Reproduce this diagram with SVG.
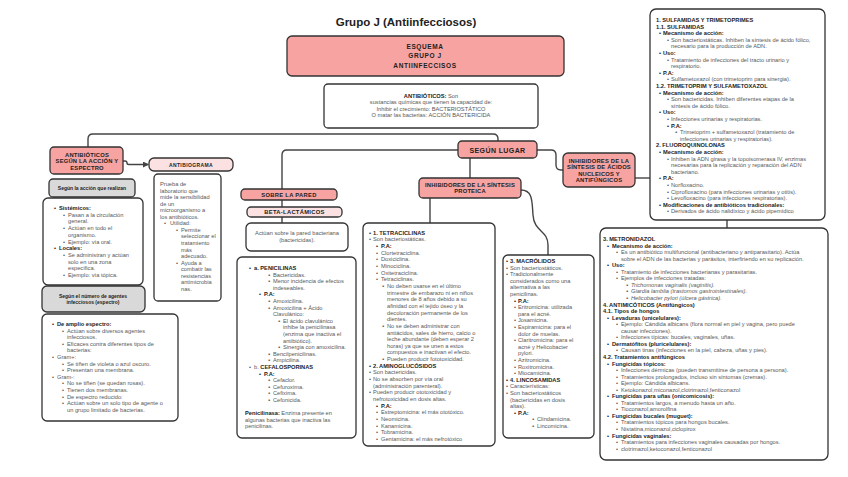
<svg xmlns="http://www.w3.org/2000/svg" width="848" height="477" viewBox="0 0 848 477">
<defs>
<marker id="ah" markerWidth="6" markerHeight="6" refX="5" refY="3" orient="auto" markerUnits="userSpaceOnUse"><path d="M0,0 L6,3 L0,6 Z" fill="#444"/></marker>
<style>
text{font-family:"Liberation Sans",Arial,sans-serif;}
.t{font-size:5.7px;fill:#585858;}
.b{font-weight:bold;fill:#222;}
.i{font-style:italic;}
.c{text-anchor:middle;}
.n{font-size:5.8px;font-weight:bold;fill:#222;text-anchor:middle;letter-spacing:0.2px;}
.box{stroke:#333;stroke-width:1.3;}
.red{fill:#f6a3a1;}
.pink{fill:#fbe1e1;}
.gray{fill:#d9d9d9;}
.white{fill:#fff;}
.con{fill:none;stroke:#444;stroke-width:1.4;}
</style>
</defs>
<rect width="848" height="477" fill="#fff"/>
<text x="406" y="25.5" class="c" style="font-size:11.5px;font-weight:bold;fill:#222">Grupo J (Antiinfecciosos)</text>

<g id="connectors">
<path class="con" d="M88,147 V139 Q88,134 93,134 H493 Q498,134 498,139 V141"/>
<path class="con" d="M458,150 H287 Q282,150 282,155 V189"/>
<path class="con" d="M537,150 H551 Q556,150 556,155 V165 Q556,170 561,170 H563"/>
<path class="con" d="M470,158 V178"/>
<path class="con" d="M282,200 V207"/>
<path class="con" d="M282,217 V223"/>
<path class="con" d="M430,198 V223"/>
<path class="con" d="M521,190 C533,190 532,202 533,215 C534,232 548,230 548,245 V255"/>
<path class="con" d="M635,178 H650"/>
<path class="con" d="M727,220 V228"/>
<path class="con" d="M123,161 H125 Q127,161 127,163 Q127,164.5 129,164.5 H148" marker-end="url(#ah)"/>
</g>

<g id="esquema">
<rect x="287" y="36" width="277" height="40" rx="5" class="box red"/>
<text x="425" y="49" class="n" style="font-size:6.5px;letter-spacing:0.6px">ESQUEMA</text>
<text x="425" y="58" class="n" style="font-size:6.5px;letter-spacing:0.6px">GRUPO J</text>
<text x="425" y="67.5" class="n" style="font-size:6.5px;letter-spacing:0.6px">ANTIINFECCISOS</text>
</g>

<g id="antibioticos">
<rect x="324" y="84" width="214" height="44" rx="4" class="box white"/>
<text x="431" y="97.5" class="t c"><tspan class="b">ANTIBIÓTICOS:</tspan> Son</text>
<text x="431" y="104" class="t c">sustancias químicas que tienen la capacidad de:</text>
<text x="431" y="110.5" class="t c">Inhibir el crecimiento: BACTERIOSTÁTICO</text>
<text x="431" y="117" class="t c">O matar las bacterias: ACCIÓN BACTERICIDA</text>
</g>

<g id="segun-lugar">
<rect x="458" y="141" width="79" height="17" rx="4" class="box red"/>
<text x="497.5" y="152.5" class="n" style="font-size:7px;letter-spacing:0.4px">SEGÚN LUGAR</text>
</g>

<g id="antib-accion">
<rect x="50" y="147" width="73" height="27" rx="4" class="box red"/>
<text x="87" y="156.5" class="n">ANTIBIÓTICOS</text>
<text x="87" y="163" class="n">SEGÚN LA ACCIÓN Y</text>
<text x="87" y="169.5" class="n">ESPECTRO</text>
</g>

<g id="antibiograma">
<rect x="149" y="158" width="84" height="13" rx="5" class="box pink"/>
<text x="191" y="166.5" class="n" style="font-size:5px;letter-spacing:0.4px">ANTIBIOGRAMA</text>
</g>

<g id="antibiograma-text">
<rect x="154" y="174" width="67" height="127" rx="4" class="box white"/>
<text class="t" x="160" y="186">Prueba de</text>
<text class="t" x="160" y="192.5">laboratorio que</text>
<text class="t" x="160" y="199">mide la sensibilidad</text>
<text class="t" x="160" y="205.6">de un</text>
<text class="t" x="160" y="212.2">microorganismo a</text>
<text class="t" x="160" y="218.7">los antibióticos.</text>
<text class="t" x="164" y="225.3">•</text><text class="t" x="170" y="225.3">Utilidad:</text>
<text class="t" x="176" y="231.8">•</text><text class="t" x="181" y="231.8">Permite</text>
<text class="t" x="181" y="238.4">seleccionar el</text>
<text class="t" x="181" y="245">tratamiento</text>
<text class="t" x="181" y="251.5">más</text>
<text class="t" x="181" y="258">adecuado.</text>
<text class="t" x="176" y="264.6">•</text><text class="t" x="181" y="264.6">Ayuda a</text>
<text class="t" x="181" y="271.2">combatir las</text>
<text class="t" x="181" y="277.8">resistencias</text>
<text class="t" x="181" y="284.3">antimicrobia</text>
<text class="t" x="181" y="290.8">nas.</text>
</g>

<g id="segun-accion">
<rect x="49" y="179" width="86" height="18" rx="4" class="box gray"/>
<text x="92" y="189.8" class="n" style="font-size:5px;letter-spacing:0">Según la acción que realizan</text>
</g>

<g id="sistemicos">
<rect x="43" y="198" width="100" height="87" rx="5" class="box white"/>
<text class="t b" x="54" y="210">•</text><text class="t b" x="59" y="210">Sistémicos:</text>
<text class="t" x="63" y="216.7">•</text><text class="t" x="68" y="216.7">Pasan a la circulación</text>
<text class="t" x="68" y="223.4">general.</text>
<text class="t" x="63" y="230.1">•</text><text class="t" x="68" y="230.1">Actúan en todo el</text>
<text class="t" x="68" y="236.8">organismo.</text>
<text class="t" x="63" y="243.5">•</text><text class="t" x="68" y="243.5">Ejemplo: vía oral.</text>
<text class="t b" x="54" y="250.2">•</text><text class="t b" x="59" y="250.2">Locales:</text>
<text class="t" x="63" y="256.9">•</text><text class="t" x="68" y="256.9">Se administran y actúan</text>
<text class="t" x="68" y="263.6">solo en una zona</text>
<text class="t" x="68" y="270.3">específica.</text>
<text class="t" x="63" y="277">•</text><text class="t" x="68" y="277">Ejemplo: vía tópica.</text>
</g>

<g id="segun-numero">
<rect x="42" y="286" width="103" height="26" rx="5" class="box gray"/>
<text x="93" y="298" class="n" style="font-size:5px;letter-spacing:0">Según el número de agentes</text>
<text x="93" y="304" class="n" style="font-size:5px;letter-spacing:0">infecciosos (espectro)</text>
</g>

<g id="espectro">
<rect x="42" y="314" width="136" height="107" rx="5" class="box white"/>
<text class="t b" x="52" y="326">•</text><text class="t b" x="57" y="326">De amplio espectro:</text>
<text class="t" x="62" y="332.6">•</text><text class="t" x="67" y="332.6">Actúan sobre diversos agentes</text>
<text class="t" x="67" y="339.2">infecciosos.</text>
<text class="t" x="62" y="345.8">•</text><text class="t" x="67" y="345.8">Eficaces contra diferentes tipos de</text>
<text class="t" x="67" y="352.4">bacterias:</text>
<text class="t" x="52" y="359">•</text><text class="t" x="57" y="359">Gram+:</text>
<text class="t" x="62" y="365.6">•</text><text class="t" x="67" y="365.6">Se tiñen de violeta o azul oscuro.</text>
<text class="t" x="62" y="372.2">•</text><text class="t" x="67" y="372.2">Presentan una membrana.</text>
<text class="t" x="52" y="378.8">•</text><text class="t" x="57" y="378.8">Gram-:</text>
<text class="t" x="62" y="385.4">•</text><text class="t" x="67" y="385.4">No se tiñen (se quedan rosas).</text>
<text class="t" x="62" y="392">•</text><text class="t" x="67" y="392">Tienen dos membranas.</text>
<text class="t" x="62" y="398.6">•</text><text class="t" x="67" y="398.6">De espectro reducido:</text>
<text class="t" x="62" y="405.2">•</text><text class="t" x="67" y="405.2">Actúan sobre un solo tipo de agente o</text>
<text class="t" x="67" y="411.8">un grupo limitado de bacterias.</text>
</g>

<g id="sobre-pared">
<rect x="241" y="189" width="96" height="11" rx="4" class="box red"/>
<text x="289" y="196.7" class="n" style="letter-spacing:0.3px">SOBRE LA PARED</text>
</g>

<g id="beta-lactamicos">
<rect x="247" y="207" width="95" height="10" rx="4" class="box pink"/>
<text x="294.5" y="214.2" class="n" style="letter-spacing:0.3px">BETA-LACTÁMICOS</text>
</g>

<g id="pared-text">
<rect x="246" y="223" width="102" height="28" rx="5" class="box white"/>
<text class="t c" x="297" y="234.5">Actúan sobre la pared bacteriana</text>
<text class="t c" x="297" y="241.5">(bactericidas).</text>
</g>

<g id="penicilinas">
<rect x="237" y="257" width="119" height="181" rx="5" class="box white"/>
<text class="t b" x="249" y="270">•</text><text class="t b" x="254" y="270">a. PENICILINAS</text>
<text class="t" x="268" y="276.6">▪</text><text class="t" x="273" y="276.6">Bactericidas.</text>
<text class="t" x="268" y="283.2">▪</text><text class="t" x="273" y="283.2">Menor incidencia de efectos</text>
<text class="t" x="273" y="289.8">indeseables.</text>
<text class="t b" x="259" y="296.4">•</text><text class="t b" x="264" y="296.4">P.A:</text>
<text class="t" x="268" y="303">▪</text><text class="t" x="273" y="303">Amoxicilina.</text>
<text class="t" x="268" y="309.6">▪</text><text class="t" x="273" y="309.6">Amoxicilina + Ácido</text>
<text class="t" x="273" y="316.2">Clavulánico:</text>
<text class="t" x="278" y="322.8">▪</text><text class="t" x="283" y="322.8">El ácido clavulánico</text>
<text class="t" x="283" y="329.4">inhibe la penicilinasa</text>
<text class="t" x="283" y="336">(enzima que inactiva el</text>
<text class="t" x="283" y="342.6">antibiótico).</text>
<text class="t" x="278" y="349.2">▪</text><text class="t" x="283" y="349.2">Sinergia con amoxicilina.</text>
<text class="t" x="268" y="355.8">▪</text><text class="t" x="273" y="355.8">Bencilpenicilinas.</text>
<text class="t" x="268" y="362.4">▪</text><text class="t" x="273" y="362.4">Ampicilina.</text>
<text class="t" x="249" y="369">•</text><text class="t" x="254" y="369">b. <tspan class="b">CEFALOSPORINAS</tspan></text>
<text class="t b" x="259" y="375.6">•</text><text class="t b" x="264" y="375.6">P.A:</text>
<text class="t" x="268" y="382.2">▪</text><text class="t" x="273" y="382.2">Cefaclor.</text>
<text class="t" x="268" y="388.8">▪</text><text class="t" x="273" y="388.8">Cefuroxima.</text>
<text class="t" x="268" y="395.4">▪</text><text class="t" x="273" y="395.4">Cefixima.</text>
<text class="t" x="268" y="402">▪</text><text class="t" x="273" y="402">Cefonicida.</text>
<text class="t" x="245" y="415.2"><tspan class="b">Penicilinasa:</tspan> Enzima presente en</text>
<text class="t" x="245" y="421.8">algunas bacterias que inactiva las</text>
<text class="t" x="245" y="428.4">penicilinas.</text>
</g>

<g id="inhibidores-proteica">
<rect x="419" y="178" width="102" height="20" rx="4" class="box red"/>
<text x="470" y="186.7" class="n">INHIBIDORES DE LA SÍNTESIS</text>
<text x="470" y="193.2" class="n">PROTEICA</text>
</g>

<g id="tetraciclinas">
<rect x="363" y="223" width="132" height="223" rx="5" class="box white"/>
<text class="t b" x="369" y="234.7">•</text><text class="t b" x="373" y="234.7">1. TETRACICLINAS</text>
<text class="t" x="369" y="241.4">•</text><text class="t" x="373" y="241.4">Son bacteriostáticas.</text>
<text class="t b" x="376" y="248">•</text><text class="t b" x="381" y="248">P.A:</text>
<text class="t" x="376" y="254.7">•</text><text class="t" x="381" y="254.7">Clortetraciclina.</text>
<text class="t" x="376" y="261.3">•</text><text class="t" x="381" y="261.3">Doxiciclina.</text>
<text class="t" x="376" y="268">•</text><text class="t" x="381" y="268">Minociclina.</text>
<text class="t" x="376" y="274.6">•</text><text class="t" x="381" y="274.6">Oxitetraciclina.</text>
<text class="t" x="376" y="281.3">•</text><text class="t" x="381" y="281.3">Tetraciclinas.</text>
<text class="t" x="382" y="287.9">▪</text><text class="t" x="387" y="287.9">No deben usarse en el último</text>
<text class="t" x="387" y="294.6">trimestre de embarazo ni en niños</text>
<text class="t" x="387" y="301.2">menores de 8 años debido a su</text>
<text class="t" x="387" y="307.9">afinidad con el tejido óseo y la</text>
<text class="t" x="387" y="314.5">decoloración permanente de los</text>
<text class="t" x="387" y="321.2">dientes.</text>
<text class="t" x="382" y="327.8">▪</text><text class="t" x="387" y="327.8">No se deben administrar con</text>
<text class="t" x="387" y="334.5">antiácidos, sales de hierro, calcio o</text>
<text class="t" x="387" y="341.1">leche abundante (deben esperar 2</text>
<text class="t" x="387" y="347.8">horas) ya que se unen a estos</text>
<text class="t" x="387" y="354.4">compuestos e inactivan el efecto.</text>
<text class="t" x="382" y="361.1">▪</text><text class="t" x="387" y="361.1">Pueden producir fototoxicidad.</text>
<text class="t b" x="369" y="367.7">•</text><text class="t b" x="373" y="367.7">2. AMINOGLUCÓSIDOS</text>
<text class="t" x="369" y="374.4">•</text><text class="t" x="373" y="374.4">Son bactericidas.</text>
<text class="t" x="369" y="381">•</text><text class="t" x="373" y="381">No se absorben por vía oral</text>
<text class="t" x="373" y="387.7">(administración parenteral).</text>
<text class="t" x="369" y="394.3">•</text><text class="t" x="373" y="394.3">Pueden producir ototoxicidad y</text>
<text class="t" x="373" y="401">nefrotoxicidad en dosis altas.</text>
<text class="t b" x="376" y="407.6">•</text><text class="t b" x="381" y="407.6">P.A:</text>
<text class="t" x="376" y="414.3">•</text><text class="t" x="381" y="414.3">Estreptomicina: el más ototóxico.</text>
<text class="t" x="376" y="420.9">•</text><text class="t" x="381" y="420.9">Neomicina.</text>
<text class="t" x="376" y="427.6">•</text><text class="t" x="381" y="427.6">Kanamicina.</text>
<text class="t" x="376" y="434.2">•</text><text class="t" x="381" y="434.2">Tobramicina.</text>
<text class="t" x="376" y="440.9">•</text><text class="t" x="381" y="440.9">Gentamicina: el más nefrotóxico</text>
</g>

<g id="macrolidos">
<rect x="503" y="255" width="91" height="183" rx="5" class="box white"/>
<text class="t b" x="506" y="263">•</text><text class="t b" x="510" y="263">3. MACRÓLIDOS</text>
<text class="t" x="506" y="269.6">•</text><text class="t" x="510" y="269.6">Son bacteriostáticos.</text>
<text class="t" x="506" y="276.2">•</text><text class="t" x="510" y="276.2">Tradicionalmente</text>
<text class="t" x="510" y="282.8">considerados como una</text>
<text class="t" x="510" y="289.4">alternativa a las</text>
<text class="t" x="510" y="296">penicilinas.</text>
<text class="t b" x="514" y="302.6">•</text><text class="t b" x="518" y="302.6">P.A:</text>
<text class="t" x="514" y="309.2">•</text><text class="t" x="518" y="309.2">Eritromicina: utilizada</text>
<text class="t" x="518" y="315.8">para el acné.</text>
<text class="t" x="514" y="322.4">•</text><text class="t" x="518" y="322.4">Josamicina.</text>
<text class="t" x="514" y="329">•</text><text class="t" x="518" y="329">Espiramicina: para el</text>
<text class="t" x="518" y="335.6">dolor de muelas.</text>
<text class="t" x="514" y="342.2">•</text><text class="t" x="518" y="342.2">Claritromicina: para el</text>
<text class="t" x="518" y="348.8">acné y Helicobacter</text>
<text class="t" x="518" y="355.4">pylori.</text>
<text class="t" x="514" y="362">•</text><text class="t" x="518" y="362">Azitromicina.</text>
<text class="t" x="514" y="368.6">•</text><text class="t" x="518" y="368.6">Roxitromicina.</text>
<text class="t" x="514" y="375.2">•</text><text class="t" x="518" y="375.2">Miocamicina.</text>
<text class="t b" x="506" y="381.8">•</text><text class="t b" x="510" y="381.8">4. LINCOSAMIDAS</text>
<text class="t" x="506" y="388.4">•</text><text class="t" x="510" y="388.4">Características:</text>
<text class="t" x="506" y="395">•</text><text class="t" x="510" y="395">Son bacteriostáticos</text>
<text class="t" x="510" y="401.6">(bactericidas en dosis</text>
<text class="t" x="510" y="408.2">altas).</text>
<text class="t b" x="514" y="414.8">•</text><text class="t b" x="518" y="414.8">P.A:</text>
<text class="t" x="532" y="421.4">▪</text><text class="t" x="537" y="421.4">Clindamicina.</text>
<text class="t" x="532" y="428">▪</text><text class="t" x="537" y="428">Lincomicina.</text>
</g>

<g id="inhibidores-acidos">
<rect x="563" y="153" width="72" height="34" rx="5" class="box red"/>
<text x="599" y="162.5" class="n">INHIBIDORES DE LA</text>
<text x="599" y="169" class="n">SÍNTESIS DE ÁCIDOS</text>
<text x="599" y="175.5" class="n">NUCLEICOS Y</text>
<text x="599" y="182" class="n">ANTIFÚNGICOS</text>
</g>

<g id="sulfamidas">
<rect x="650" y="9" width="175" height="211" rx="6" class="box white"/>
<text class="t b" x="656" y="22">1. SULFAMIDAS Y TRIMETOPRIMES</text>
<text class="t b" x="656" y="28.6">1.1. SULFAMIDAS</text>
<text class="t b" x="659" y="35.2">•</text><text class="t b" x="663" y="35.2">Mecanismo de acción:</text>
<text class="t" x="667" y="41.8">•</text><text class="t" x="671" y="41.8">Son bacteriostáticas. Inhiben la síntesis de ácido fólico,</text>
<text class="t" x="671" y="48.4">necesario para la producción de ADN.</text>
<text class="t b" x="659" y="55">•</text><text class="t b" x="663" y="55">Uso:</text>
<text class="t" x="667" y="61.6">•</text><text class="t" x="671" y="61.6">Tratamiento de infecciones del tracto urinario y</text>
<text class="t" x="671" y="68.2">respiratorio.</text>
<text class="t b" x="659" y="74.8">•</text><text class="t b" x="663" y="74.8">P.A:</text>
<text class="t" x="667" y="81.4">•</text><text class="t" x="671" y="81.4">Sulfametoxazol (con trimetoprim para sinergia).</text>
<text class="t b" x="656" y="88">1.2. TRIMETOPRIM Y SULFAMETOXAZOL</text>
<text class="t b" x="659" y="94.6">•</text><text class="t b" x="663" y="94.6">Mecanismo de acción:</text>
<text class="t" x="667" y="101.2">•</text><text class="t" x="671" y="101.2">Son bactericidas. Inhiben diferentes etapas de la</text>
<text class="t" x="671" y="107.8">síntesis de ácido fólico.</text>
<text class="t b" x="659" y="114.4">•</text><text class="t b" x="663" y="114.4">Uso:</text>
<text class="t" x="667" y="121">•</text><text class="t" x="671" y="121">Infecciones urinarias y respiratorias.</text>
<text class="t b" x="667" y="127.6">•</text><text class="t b" x="671" y="127.6">P.A:</text>
<text class="t" x="675" y="134.2">▪</text><text class="t" x="680" y="134.2">Trimetoprim + sulfametoxazol (tratamiento de</text>
<text class="t" x="680" y="140.8">infecciones urinarias y respiratorias).</text>
<text class="t b" x="656" y="147.4">2. FLUOROQUINOLONAS</text>
<text class="t b" x="659" y="154">•</text><text class="t b" x="663" y="154">Mecanismo de acción:</text>
<text class="t" x="667" y="160.6">•</text><text class="t" x="671" y="160.6">Inhiben la ADN girasa y la topoisomerasa IV, enzimas</text>
<text class="t" x="671" y="167.2">necesarias para la replicación y reparación del ADN</text>
<text class="t" x="671" y="173.8">bacteriano.</text>
<text class="t b" x="659" y="180.4">•</text><text class="t b" x="663" y="180.4">P.A:</text>
<text class="t" x="667" y="187">•</text><text class="t" x="671" y="187">Norfloxacino.</text>
<text class="t" x="667" y="193.6">•</text><text class="t" x="671" y="193.6">Ciprofloxacino (para infecciones urinarias y otitis).</text>
<text class="t" x="667" y="200.2">•</text><text class="t" x="671" y="200.2">Levofloxacino (para infecciones respiratorias).</text>
<text class="t b" x="659" y="206.8">•</text><text class="t b" x="663" y="206.8">Modificaciones de antibióticos tradicionales:</text>
<text class="t" x="667" y="213.4">•</text><text class="t" x="671" y="213.4">Derivados de ácido nalidíxico y ácido pipemídico</text>
</g>

<g id="metronidazol">
<rect x="600" y="228" width="228" height="232" rx="6" class="box white"/>
<text class="t b" x="603" y="241">3. METRONIDAZOL</text>
<text class="t b" x="607" y="247.6">•</text><text class="t b" x="612" y="247.6">Mecanismo de acción:</text>
<text class="t" x="616" y="254.1">•</text><text class="t" x="621" y="254.1">Es un antibiótico multifuncional (antibacteriano y antiparasitario). Actúa</text>
<text class="t" x="621" y="260.7">sobre el ADN de las bacterias y parásitos, interfiriendo en su replicación.</text>
<text class="t b" x="607" y="267.2">•</text><text class="t b" x="612" y="267.2">Uso:</text>
<text class="t" x="616" y="273.8">•</text><text class="t" x="621" y="273.8">Tratamiento de infecciones bacterianas y parasitarias.</text>
<text class="t" x="616" y="280.3">•</text><text class="t" x="621" y="280.3">Ejemplos de infecciones tratadas:</text>
<text class="t" x="626" y="286.9">▪</text><text class="t i" x="631" y="286.9">Trichomonas vaginalis (vaginitis).</text>
<text class="t" x="626" y="293.4">▪</text><text class="t i" x="631" y="293.4">Giardia lamblia (trastornos gastrointestinales).</text>
<text class="t" x="626" y="300">▪</text><text class="t i" x="631" y="300">Helicobacter pylori (úlcera gástrica).</text>
<text class="t b" x="603" y="306.5">4. ANTIMICÓTICOS (Antifúngicos)</text>
<text class="t b" x="603" y="313.1">4.1. Tipos de hongos</text>
<text class="t b" x="607" y="319.6">•</text><text class="t b" x="612" y="319.6">Levaduras (unicelulares):</text>
<text class="t" x="616" y="326.2">•</text><text class="t" x="621" y="326.2">Ejemplo: Cándida albicans (flora normal en piel y vagina, pero puede</text>
<text class="t" x="621" y="332.7">causar infecciones).</text>
<text class="t" x="616" y="339.3">•</text><text class="t" x="621" y="339.3">Infecciones típicas: bucales, vaginales, uñas.</text>
<text class="t b" x="607" y="345.8">•</text><text class="t b" x="612" y="345.8">Dermatófitos (pluricelulares):</text>
<text class="t" x="616" y="352.4">•</text><text class="t" x="621" y="352.4">Causan tinas (infecciones en la piel, cabeza, uñas y pies).</text>
<text class="t b" x="603" y="358.9">4.2. Tratamientos antifúngicos</text>
<text class="t b" x="607" y="365.5">•</text><text class="t b" x="612" y="365.5">Fungicidas tópicos:</text>
<text class="t" x="616" y="372">•</text><text class="t" x="621" y="372">Infecciones dérmicas (pueden transmitirse de persona a persona).</text>
<text class="t" x="616" y="378.6">•</text><text class="t" x="621" y="378.6">Tratamientos prolongados, incluso sin síntomas (cremas).</text>
<text class="t" x="616" y="385.1">•</text><text class="t" x="621" y="385.1">Ejemplo: Cándida albicans.</text>
<text class="t" x="616" y="391.7">•</text><text class="t" x="621" y="391.7">Ketokonazol,miconazol,clotrimazol,fenticonazol</text>
<text class="t b" x="607" y="398.2">•</text><text class="t b" x="612" y="398.2">Fungicidas para uñas (onicomicosis):</text>
<text class="t" x="616" y="404.8">•</text><text class="t" x="621" y="404.8">Tratamientos largos, a menudo hasta un año.</text>
<text class="t" x="616" y="411.3">•</text><text class="t" x="621" y="411.3">Tioconazol,amorolfina</text>
<text class="t b" x="607" y="417.9">•</text><text class="t b" x="612" y="417.9">Fungicidas bucales (muguet):</text>
<text class="t" x="616" y="424.4">•</text><text class="t" x="621" y="424.4">Tratamientos tópicos para hongos bucales.</text>
<text class="t" x="616" y="431">•</text><text class="t" x="621" y="431">Nistatina,miconazol,ciclopirox</text>
<text class="t b" x="607" y="437.5">•</text><text class="t b" x="612" y="437.5">Fungicidas vaginales:</text>
<text class="t" x="616" y="444.1">•</text><text class="t" x="621" y="444.1">Tratamientos para infecciones vaginales causadas por hongos.</text>
<text class="t" x="616" y="450.6">•</text><text class="t" x="621" y="450.6">clotrimazol,ketoconazol,fenticonazol</text>
</g>
</svg>
